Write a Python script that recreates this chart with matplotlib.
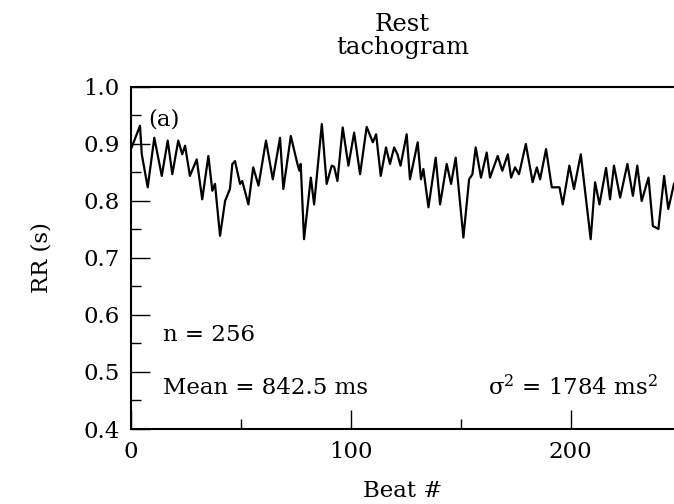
import matplotlib
matplotlib.use("Agg")
import matplotlib.pyplot as plt
from matplotlib.ticker import MultipleLocator, FormatStrFormatter

plt.rcParams['font.family'] = ['DejaVu Serif']
plt.rcParams['mathtext.fontset'] = 'dejavuserif'

beat = [0.3, 4.1, 4.9, 7.6, 10.6, 14.0, 16.7, 18.8, 21.5, 23.3, 24.6, 26.8, 29.9, 32.4,
        35.2, 37.0, 38.2, 40.5, 42.8, 45.0, 46.1, 47.3, 49.6, 50.6, 53.4, 55.6, 58.0,
        61.4, 64.5, 67.8, 69.3, 72.7, 75.7, 76.6, 77.2, 78.7, 81.8, 83.3, 86.8, 89.0,
        91.3, 92.4, 93.9, 96.3, 98.9, 101.5, 104.2, 107.2, 110.0, 111.5, 113.6, 116.0,
        117.8, 119.7, 121.2, 122.6, 125.4, 126.9, 130.4, 131.9, 133.0, 135.3, 138.6,
        140.6, 143.6, 145.6, 147.7, 151.2, 153.8, 155.3, 156.8, 159.2, 161.8, 163.3,
        166.8, 168.9, 171.4, 172.9, 174.7, 176.5, 179.6, 182.7, 184.6, 186.1, 188.8,
        191.4, 194.9, 196.4, 199.4, 201.5, 204.6, 209.1, 211.1, 213.1, 216.1, 217.9,
        219.7, 222.5, 225.8, 228.3, 230.3, 232.3, 235.4, 237.4, 239.9, 242.5, 244.4, 247.0]
rr = [0.894, 0.932, 0.882, 0.824, 0.911, 0.844, 0.906, 0.847, 0.906, 0.882, 0.897, 0.844,
      0.873, 0.803, 0.879, 0.818, 0.830, 0.739, 0.800, 0.821, 0.865, 0.870, 0.830, 0.835,
      0.794, 0.859, 0.827, 0.906, 0.838, 0.911, 0.821, 0.914, 0.865, 0.853, 0.865, 0.733,
      0.841, 0.794, 0.935, 0.830, 0.862, 0.860, 0.835, 0.929, 0.862, 0.920, 0.847, 0.930,
      0.903, 0.917, 0.844, 0.894, 0.865, 0.894, 0.882, 0.862, 0.917, 0.838, 0.903, 0.838,
      0.856, 0.789, 0.876, 0.794, 0.865, 0.830, 0.876, 0.736, 0.838, 0.847, 0.894, 0.841,
      0.885, 0.841, 0.879, 0.853, 0.882, 0.841, 0.859, 0.847, 0.900, 0.833, 0.859, 0.838,
      0.891, 0.824, 0.824, 0.794, 0.862, 0.821, 0.882, 0.733, 0.833, 0.794, 0.858, 0.803,
      0.862, 0.806, 0.865, 0.809, 0.862, 0.800, 0.841, 0.756, 0.751, 0.844, 0.786, 0.830]

title_text = "Rest\ntachogram"
x_label = "Beat #"
y_label = "RR (s)"
panel_label = "(a)"
n_text = "n = 256"
mean_text = "Mean = 842.5 ms"
var_text = "σ$^2$ = 1784 ms$^2$"

FS = 16.5

fig = plt.figure(figsize=(6.74, 5.04), dpi=100)
ax = fig.add_axes([131/674, 75/504, 543/674, 342/504])
ax.plot(beat, rr, color='black', lw=1.6)

ax.set_xlim(0, 247)
ax.set_ylim(0.4, 1.0)
ax.xaxis.set_major_locator(MultipleLocator(100))
ax.xaxis.set_minor_locator(MultipleLocator(50))
ax.yaxis.set_major_locator(MultipleLocator(0.1))
ax.yaxis.set_minor_locator(MultipleLocator(0.05))
ax.yaxis.set_major_formatter(FormatStrFormatter('%.1f'))
ax.tick_params(which='major', direction='in', length=14, width=1.0, labelsize=FS)
ax.tick_params(axis='x', which='major', pad=9)
ax.tick_params(axis='y', which='major', pad=8)
ax.tick_params(which='minor', direction='in', length=7, width=1.0)
ax.tick_params(top=False, right=False, which='both')
ax.spines['right'].set_visible(False)
for s in ['left', 'bottom', 'top']:
    ax.spines[s].set_linewidth(1.5)

ax.set_xlabel(x_label, fontsize=FS, labelpad=12)
ax.set_ylabel(y_label, fontsize=FS, labelpad=22)
ax.set_title(title_text, fontsize=17.5, linespacing=1.0, pad=24)

ax.text(0.031, 0.904, panel_label, transform=ax.transAxes, fontsize=FS, va='center', ha='left')
ax.text(0.059, 0.275, n_text, transform=ax.transAxes, fontsize=FS, va='center', ha='left')
ax.text(0.059, 0.12, mean_text, transform=ax.transAxes, fontsize=FS, va='center', ha='left')
ax.text(0.970, 0.12, var_text, transform=ax.transAxes, fontsize=FS, va='center', ha='right')

fig.savefig("out.png", dpi=100)
